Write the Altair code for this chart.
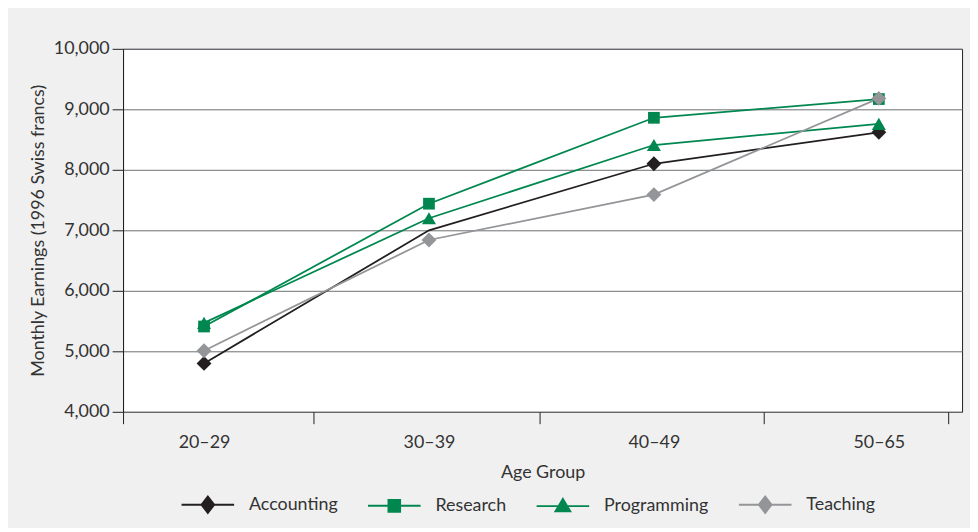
import json
import altair as alt
import pandas as pd

# ---- data ----
groups = ["20–29", "30–39", "40–49", "50–65"]
series = ["Accounting", "Research", "Programming", "Teaching"]
accounting = [4800, 7000, 8100, 8620]
research = [5410, 7440, 8860, 9170]
programming = [5470, 7200, 8410, 8760]
teaching = [5010, 6840, 7590, 9180]
# the Accounting marker at 30–39 is not drawn in the reference
accounting_marker = [True, False, True, True]

colors = ["#231f20", "#00874f", "#00874f", "#939598"]
marker_shapes = ["diamond", "square", "triangle-up", "diamond"]
marker_sizes = [225, 140, 200, 225]
y_ticks = [4000, 5000, 6000, 7000, 8000, 9000, 10000]
# separator tick marks on the category axis (in category-index units)
x_separators = [-0.36, 0.485, 1.49, 2.49, 3.31]

values_by_series = {
    "Accounting": accounting,
    "Research": research,
    "Programming": programming,
    "Teaching": teaching,
}
rows = []
for s in series:
    for i, g in enumerate(groups):
        rows.append({
            "series": s,
            "group": g,
            "idx": i,
            "value": values_by_series[s][i],
            "marker": accounting_marker[i] if s == "Accounting" else True,
        })
df = pd.DataFrame(rows)

FONT = "Lato"
TXT = "#333333"

# legend symbols: a line with the marker on it (unit box -1..1)
legend_paths = [
    "M-1,0L1,0M0,-0.31L0.24,0L0,0.31L-0.24,0Z",
    "M-1,0L1,0M-0.22,-0.22L0.22,-0.22L0.22,0.22L-0.22,0.22Z",
    "M-1,0L1,0M0,-0.27L0.28,0.2L-0.28,0.2Z",
    "M-1,0L1,0M0,-0.31L0.24,0L0,0.31L-0.24,0Z",
]

tick_vals = sorted(x_separators + list(range(len(groups))))
is_label = "datum.value == round(datum.value)"
label_expr = f"{is_label} ? {json.dumps(groups, ensure_ascii=False)}[datum.value] : ''"

x_enc = alt.X(
    "idx:Q",
    scale=alt.Scale(domain=[-0.36, 3.37], nice=False, zero=False),
    axis=alt.Axis(
        values=tick_vals,
        labelExpr=label_expr,
        tickSize={"condition": {"test": is_label, "value": 0}, "value": 12},
        grid=False,
        domain=False,
        title="Age Group",
        labelPadding=22,
        titlePadding=12,
    ),
)
y_enc = alt.Y(
    "value:Q",
    scale=alt.Scale(domain=[4000, 10000], nice=False, zero=False),
    axis=alt.Axis(
        values=y_ticks,
        format=",.0f",
        tickSize=11,
        labelPadding=3,
        title="Monthly Earnings (1996 Swiss francs)",
        titlePadding=6,
        grid=True,
    ),
)
color_scale = alt.Scale(domain=series, range=colors)

legend_def = alt.Legend(
    title=None,
    orient="none",
    direction="horizontal",
    legendX=58,
    legendY=432,
    symbolSize=2809,
    symbolStrokeWidth=2,
    symbolOpacity=1,
    labelFontSize=18,
    labelFont=FONT,
    labelColor=TXT,
    labelOffset=14,
    columnPadding=26,
)

base = alt.Chart(df)

# all series-keyed channels share one legend (they are merged by domain)
lines = base.mark_line(strokeWidth=1.8).encode(
    x=x_enc, y=y_enc,
    color=alt.Color("series:N", scale=color_scale, legend=legend_def, sort=series),
)

point_layers = []
for s, shp, sz in zip(series, marker_shapes, marker_sizes):
    point_layers.append(
        base.transform_filter(f"datum.series == '{s}' && datum.marker")
        .mark_point(filled=True, shape=shp, size=sz, opacity=1)
        .encode(
            x=x_enc, y=y_enc,
            color=alt.Color("series:N", scale=color_scale, legend=legend_def, sort=series),
        )
    )

# invisible layer that only carries the legend symbols (line + marker)
legend_layer = base.mark_point(filled=True, opacity=0).encode(
    x=x_enc, y=y_enc,
    fill=alt.Fill("series:N", scale=alt.Scale(domain=series, range=colors),
                  legend=legend_def, sort=series),
    stroke=alt.Stroke("series:N", scale=alt.Scale(domain=series, range=colors),
                      legend=legend_def, sort=series),
    shape=alt.Shape("series:N", scale=alt.Scale(domain=series, range=legend_paths),
                    legend=legend_def, sort=series),
)

chart = (
    alt.layer(lines, *point_layers, legend_layer)
    .properties(
        width=846,
        height=366,
        background="#f0f0f0",
        padding={"left": 116, "top": 39, "right": 8, "bottom": 115},
        autosize=alt.AutoSizeParams(type="none"),
    )
    .configure_view(fill="white", stroke="#231f20", strokeWidth=1)
    .configure_axis(
        labelFont=FONT,
        titleFont=FONT,
        labelFontSize=18,
        titleFontSize=18,
        titleFontWeight="normal",
        labelColor=TXT,
        titleColor=TXT,
        tickColor="#231f20",
        domainColor="#231f20",
        gridColor="#6d6e71",
        gridOpacity=1,
    )
)

chart.save("out.html", embed_options={"renderer": "svg", "actions": False})
